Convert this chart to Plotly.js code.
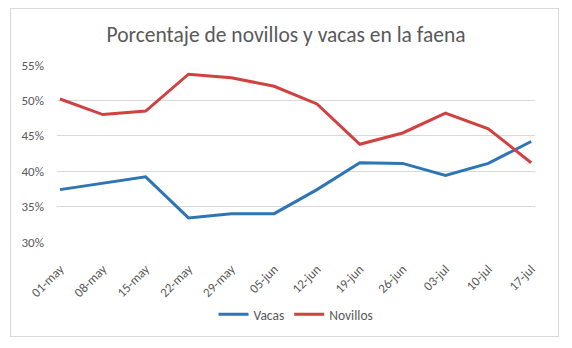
<!DOCTYPE html>
<html>
<head>
<meta charset="utf-8">
<script src="https://cdn.plot.ly/plotly-3.0.1.min.js"></script>
<style>
html,body{margin:0;padding:0;background:#fff;}
#frame{position:absolute;left:10px;top:8px;width:549px;height:329px;border:1px solid #d9d9d9;box-sizing:border-box;}
#chart{position:absolute;left:0;top:0;width:572px;height:348px;}
</style>
</head>
<body>
<div id="frame"></div>
<div id="chart"></div>
<script>
const categories = ["01-may","08-may","15-may","22-may","29-may","05-jun","12-jun","19-jun","26-jun","03-jul","10-jul","17-jul"];
const vacas = [37.4, 38.3, 39.2, 33.4, 34.0, 34.0, 37.4, 41.2, 41.1, 39.4, 41.1, 44.2];
const novillos = [50.2, 48.0, 48.5, 53.7, 53.2, 52.0, 49.5, 43.8, 45.4, 48.2, 46.0, 41.2];
const yTicks = [30, 35, 40, 45, 50, 55];
const yTickLabels = ["30%","35%","40%","45%","50%","55%"];

const font = "Calibri, Carlito, 'Open Sans', 'Liberation Sans', sans-serif";
const traces = [
  {x: categories, y: vacas, name: "Vacas", type: "scatter", mode: "lines",
   line: {color: "#2e75b6", width: 3}},
  {x: categories, y: novillos, name: "Novillos", type: "scatter", mode: "lines",
   line: {color: "#d0413f", width: 3}}
];
const layout = {
  width: 572, height: 348,
  paper_bgcolor: "rgba(0,0,0,0)", plot_bgcolor: "rgba(0,0,0,0)",
  margin: {l: 57, r: 37, t: 65, b: 106},
  font: {family: font, color: "#595959", size: 13},
  title: {text: "Porcentaje de novillos y vacas en la faena", x: 0.5, xanchor: "center",
          y: 0.9, yanchor: "middle", font: {size: 21.5, color: "#595959", family: font}},
  xaxis: {type: "category", range: [-0.07, 11.09], showgrid: false, zeroline: false,
          showline: false, ticks: "", tickangle: -45, ticklabelstandoff: 16,
          tickfont: {size: 13, color: "#595959"}},
  yaxis: {range: [30, 55], tickvals: yTicks, ticktext: yTickLabels, showgrid: true,
          gridcolor: "#d9d9d9", gridwidth: 1, zeroline: false, showline: false, ticks: "",
          ticklabelstandoff: 12, tickfont: {size: 13, color: "#595959"}},
  showlegend: true,
  legend: {orientation: "h", x: 0.5, xanchor: "center", y: -0.41, yanchor: "middle",
           font: {size: 13.5, color: "#595959"}, itemwidth: 30, tracegroupgap: 0}
};
Plotly.newPlot("chart", traces, layout, {displayModeBar: false, staticPlot: true});
</script>
</body>
</html>
